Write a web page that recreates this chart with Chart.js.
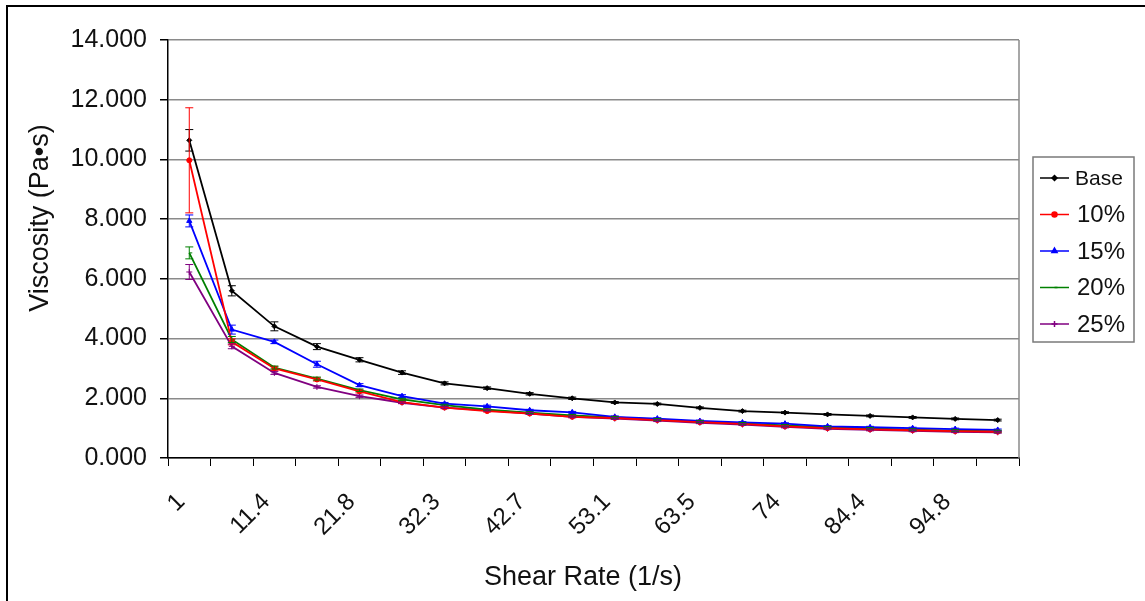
<!DOCTYPE html>
<html>
<head>
<meta charset="utf-8">
<script src="https://cdn.jsdelivr.net/npm/chart.js@4.4.1/dist/chart.umd.min.js"></script>
<style>
html, body { margin: 0; padding: 0; background: #fff; }
#frame { position: absolute; left: 6px; top: 5px; width: 1150px; height: 610px; border-left: 2px solid #000; border-top: 2px solid #000; }
#wrap { position: absolute; left: 0; top: 0; width: 1145px; height: 601px; }
</style>
</head>
<body>
<div id="frame"></div>
<div id="wrap"><canvas id="viscChart"></canvas></div>
<script>
// shear rate categories (1/s)
var shearRate = ['1', '6.2', '11.4', '16.6', '21.8', '27.1', '32.3', '37.5', '42.7', '47.9',
                 '53.1', '58.3', '63.5', '68.7', '74', '79.2', '84.4', '89.6', '94.8', '100'];

// viscosity (Pa.s) per formulation
var base   = [10.64, 5.60, 4.41, 3.73, 3.29, 2.86, 2.50, 2.34, 2.15, 2.00, 1.86, 1.81, 1.68, 1.57, 1.52, 1.46, 1.41, 1.36, 1.31, 1.27];
var pct10  = [9.97, 3.89, 3.00, 2.63, 2.23, 1.87, 1.69, 1.57, 1.49, 1.38, 1.34, 1.27, 1.20, 1.14, 1.06, 1.00, 0.96, 0.93, 0.90, 0.88];
var pct15  = [7.94, 4.30, 3.89, 3.14, 2.44, 2.07, 1.82, 1.73, 1.60, 1.53, 1.38, 1.32, 1.24, 1.19, 1.15, 1.06, 1.03, 1.00, 0.97, 0.94];
var pct20  = [6.87, 3.97, 3.03, 2.66, 2.27, 1.96, 1.77, 1.62, 1.52, 1.43, 1.36, 1.29, 1.22, 1.16, 1.09, 1.03, 0.99, 0.95, 0.92, 0.90];
var pct25  = [6.23, 3.74, 2.85, 2.38, 2.07, 1.85, 1.69, 1.60, 1.49, 1.38, 1.32, 1.25, 1.18, 1.12, 1.04, 0.98, 0.94, 0.91, 0.88, 0.86];

// standard deviation (error bars)
var baseErr  = [0.36, 0.17, 0.15, 0.10, 0.07, 0.06, 0.05, 0.04, 0.04, 0.04, 0.03, 0.03, 0.03, 0.03, 0.03, 0.03, 0.03, 0.03, 0.03, 0.03];
var pct10Err = [1.76, 0.10, 0.06, 0.05, 0.05, 0.04, 0.04, 0.03, 0.03, 0.03, 0.03, 0.03, 0.03, 0.03, 0.03, 0.03, 0.03, 0.03, 0.03, 0.03];
var pct15Err = [0.20, 0.15, 0.06, 0.10, 0.05, 0.05, 0.04, 0.04, 0.03, 0.03, 0.03, 0.03, 0.03, 0.03, 0.03, 0.03, 0.03, 0.03, 0.03, 0.03];
var pct20Err = [0.20, 0.10, 0.05, 0.05, 0.04, 0.04, 0.03, 0.03, 0.03, 0.03, 0.03, 0.03, 0.03, 0.03, 0.03, 0.03, 0.03, 0.03, 0.03, 0.03];
var pct25Err = [0.25, 0.08, 0.05, 0.04, 0.04, 0.03, 0.03, 0.03, 0.03, 0.03, 0.03, 0.03, 0.03, 0.03, 0.03, 0.03, 0.03, 0.03, 0.03, 0.03];

var FONT = "'Liberation Sans', Arial, sans-serif";

// vertical error bars with caps
var errorBars = {
    id: 'errorBars',
    afterDatasetsDraw: function(chart) {
        var ctx = chart.ctx, y = chart.scales.y;
        chart.data.datasets.forEach(function(ds, di) {
            var meta = chart.getDatasetMeta(di);
            ctx.save();
            ctx.strokeStyle = ds.borderColor;
            ctx.lineWidth = 1;
            meta.data.forEach(function(pt, i) {
                var e = ds.errors[i];
                if (!e) return;
                var top = y.getPixelForValue(ds.data[i] + e);
                var bot = y.getPixelForValue(ds.data[i] - e);
                ctx.beginPath();
                ctx.moveTo(pt.x, top); ctx.lineTo(pt.x, bot);
                ctx.moveTo(pt.x - 4, top); ctx.lineTo(pt.x + 4, top);
                ctx.moveTo(pt.x - 4, bot); ctx.lineTo(pt.x + 4, bot);
                ctx.stroke();
            });
            ctx.restore();
        });
    }
};

// plot frame, axis titles and boxed legend
var extras = {
    id: 'extras',
    beforeDatasetsDraw: function(chart) {
        var ctx = chart.ctx, a = chart.chartArea;
        ctx.save();
        ctx.strokeStyle = '#8a8a8a';
        ctx.lineWidth = 1.5;
        ctx.beginPath();
        ctx.moveTo(a.right, a.top); ctx.lineTo(a.right, a.bottom);
        ctx.stroke();
        ctx.restore();
    },
    afterDraw: function(chart) {
        var ctx = chart.ctx;
        ctx.save();
        ctx.fillStyle = '#111';
        ctx.textAlign = 'center';
        ctx.textBaseline = 'middle';
        ctx.font = '27px ' + FONT;
        ctx.fillText('Shear Rate (1/s)', 583, 578);
        ctx.translate(41, 218);
        ctx.rotate(-Math.PI / 2);
        ctx.fillText('Viscosity (Pa\u2022s)', 0, 0);
        ctx.restore();

        // legend
        ctx.save();
        ctx.strokeStyle = '#7a7a7a';
        ctx.lineWidth = 1.5;
        ctx.strokeRect(1033, 157, 101, 185);
        var rows = [178, 214.5, 251, 287.5, 324];
        chart.data.datasets.forEach(function(ds, i) {
            var yy = rows[i];
            ctx.strokeStyle = ds.borderColor;
            ctx.fillStyle = ds.borderColor;
            ctx.lineWidth = 1.5;
            ctx.beginPath();
            ctx.moveTo(1040, yy); ctx.lineTo(1069, yy);
            ctx.stroke();
            Chart.helpers.drawPoint(ctx, {
                pointStyle: ds.pointStyle, radius: ds.pointRadius, rotation: 0, borderWidth: 1
            }, 1054.5, yy);
            ctx.fillStyle = '#111';
            ctx.textAlign = 'left';
            ctx.textBaseline = 'middle';
            ctx.font = (i === 0 ? '21px ' : '24px ') + FONT;
            ctx.fillText(ds.label, i === 0 ? 1075 : 1077, yy + 1);
        });
        ctx.restore();
    }
};

function series(label, data, errors, color, style, radius) {
    return {
        label: label,
        data: data,
        errors: errors,
        borderColor: color,
        backgroundColor: color,
        borderWidth: 1.8,
        pointStyle: style,
        pointRadius: radius,
        pointBorderWidth: 1,
        tension: 0
    };
}

window.onload = function() {
    var ctx = document.getElementById('viscChart');
    var viscChart = new Chart(ctx, {
        type: 'line',
        data: {
            labels: shearRate,
            datasets: [
                series('Base', base, baseErr, '#000000', 'rectRot', 2.5),
                series('10%', pct10, pct10Err, '#ff0000', 'circle', 2.5),
                series('15%', pct15, pct15Err, '#0000ff', 'triangle', 3),
                series('20%', pct20, pct20Err, '#008000', 'dash', 3),
                series('25%', pct25, pct25Err, '#800080', 'cross', 3)
            ]
        },
        options: {
            responsive: true,
            maintainAspectRatio: false,
            animation: false,
            layout: { padding: { top: 40, right: 126, left: 0, bottom: 0 } },
            plugins: { legend: { display: false }, tooltip: { enabled: false } },
            scales: {
                x: {
                    type: 'category',
                    offset: true,
                    afterFit: function(s) { s.height = 143; },
                    grid: { offset: true, drawOnChartArea: false, drawTicks: true, tickLength: 8, color: '#000', lineWidth: 1 },
                    border: { color: '#000', width: 1.5 },
                    ticks: {
                        autoSkip: false,
                        maxRotation: 45,
                        minRotation: 45,
                        padding: 22,
                        labelOffset: -8,
                        color: '#111',
                        font: { family: FONT, size: 24 },
                        callback: function(v, i) { return i % 2 === 0 ? this.getLabelForValue(v) : ''; }
                    }
                },
                y: {
                    min: 0,
                    max: 14,
                    afterFit: function(s) { s.width = 168; },
                    grid: { color: '#8a8a8a', lineWidth: 1.5, tickColor: '#000', tickLength: 8 },
                    border: { color: '#000', width: 1.5 },
                    ticks: {
                        stepSize: 2,
                        padding: 13,
                        color: '#111',
                        font: { family: FONT, size: 25 },
                        callback: function(v) { return v.toFixed(3); }
                    }
                }
            }
        },
        plugins: [errorBars, extras]
    });
};
</script>
</body>
</html>
